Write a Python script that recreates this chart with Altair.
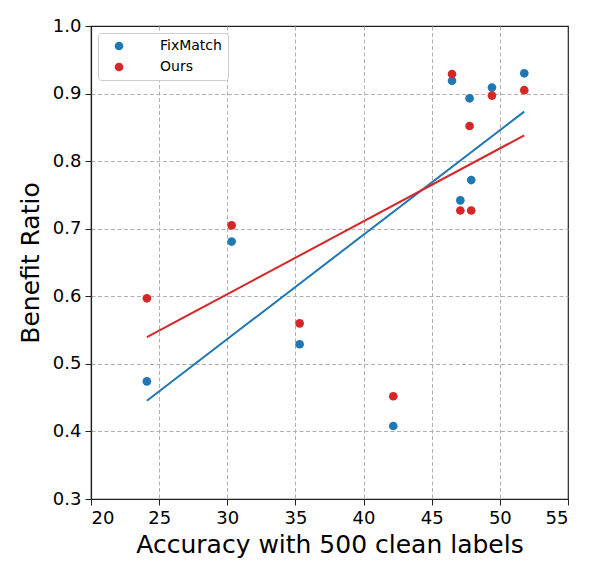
import altair as alt
import pandas as pd

# Accuracy with 500 clean labels (x) shared by both series
accuracy = [24.1, 30.32, 35.31, 42.18, 46.49, 47.1, 47.78, 47.9, 49.42, 51.79]
fixmatch = [0.474, 0.681, 0.529, 0.408, 0.919, 0.742, 0.893, 0.772, 0.909, 0.930]
ours = [0.597, 0.705, 0.560, 0.452, 0.929, 0.727, 0.852, 0.727, 0.897, 0.905]
series_names = ["FixMatch", "Ours"]
series_colors = ["#1f77b4", "#d62728"]
x_ticks = [20, 25, 30, 35, 40, 45, 50, 55]
y_ticks = [0.3, 0.4, 0.5, 0.6, 0.7, 0.8, 0.9, 1.0]

rows = []
for name, vals in zip(series_names, [fixmatch, ours]):
    for xv, yv in zip(accuracy, vals):
        rows.append({"acc": xv, "ratio": yv, "series": name})
df = pd.DataFrame(rows)

FONT = "DejaVu Sans"

x_enc = alt.X(
    "acc:Q",
    scale=alt.Scale(domain=[20, 55], nice=False, zero=False),
    axis=alt.Axis(
        values=x_ticks,
        title="Accuracy with 500 clean labels",
        format="d",
        gridOpacity={"condition": {"test": "datum.value >= 54.9 || datum.value <= 20.1", "value": 0}, "value": 1},
    ),
)
y_enc = alt.Y(
    "ratio:Q",
    scale=alt.Scale(domain=[0.3, 1.0], nice=False, zero=False),
    axis=alt.Axis(
        values=y_ticks,
        title="Benefit Ratio",
        format=".1f",
        gridOpacity={"condition": {"test": "datum.value >= 0.99 || datum.value <= 0.31", "value": 0}, "value": 1},
    ),
)
color_enc = alt.Color(
    "series:N",
    scale=alt.Scale(domain=series_names, range=series_colors),
    legend=alt.Legend(
        title=None,
        orient="none",
        legendX=7,
        legendY=7,
        symbolType="circle",
        symbolSize=75,
        symbolStrokeWidth=0,
        labelFontSize=14,
        labelFont=FONT,
        labelColor="#000000",
        labelOffset=34,
        labelLimit=70,
        rowPadding=7,
        padding=6,
        symbolOffset=8,
        strokeColor="#cccccc",
        fillColor="#ffffff",
        cornerRadius=3,
    ),
)

points = alt.Chart(df).mark_circle(size=75, opacity=1).encode(
    x=x_enc, y=y_enc, color=color_enc, order=alt.Order("series:N")
)

lines = (
    alt.Chart(df)
    .transform_regression("acc", "ratio", groupby=["series"])
    .mark_line(strokeWidth=2)
    .encode(x=x_enc, y=y_enc, color=color_enc)
)

chart = (
    alt.layer(points, lines)
    .properties(
        width=477,
        height=473,
        autosize="none",
        padding={"left": 83, "top": 18, "right": 22, "bottom": 62},
        background="#ffffff",
    )
    .configure_view(stroke="#222222", strokeWidth=1.2)
    .configure_axis(
        labelFont=FONT,
        titleFont=FONT,
        labelFontSize=18,
        titleFontSize=25,
        titleFontWeight="normal",
        labelColor="#000000",
        titleColor="#000000",
        domainColor="#222222",
        domainWidth=1.2,
        tickColor="#222222",
        tickSize=6,
        tickWidth=1,
        grid=True,
        gridColor="#b0b0b0",
        gridDash=[4, 2.5],
        gridWidth=1,
    )
    .configure_axisX(labelPadding=4, titlePadding=5)
    .configure_axisY(labelPadding=4, titlePadding=9)
)

chart.save("out.html", embed_options={"renderer": "svg", "actions": False})
